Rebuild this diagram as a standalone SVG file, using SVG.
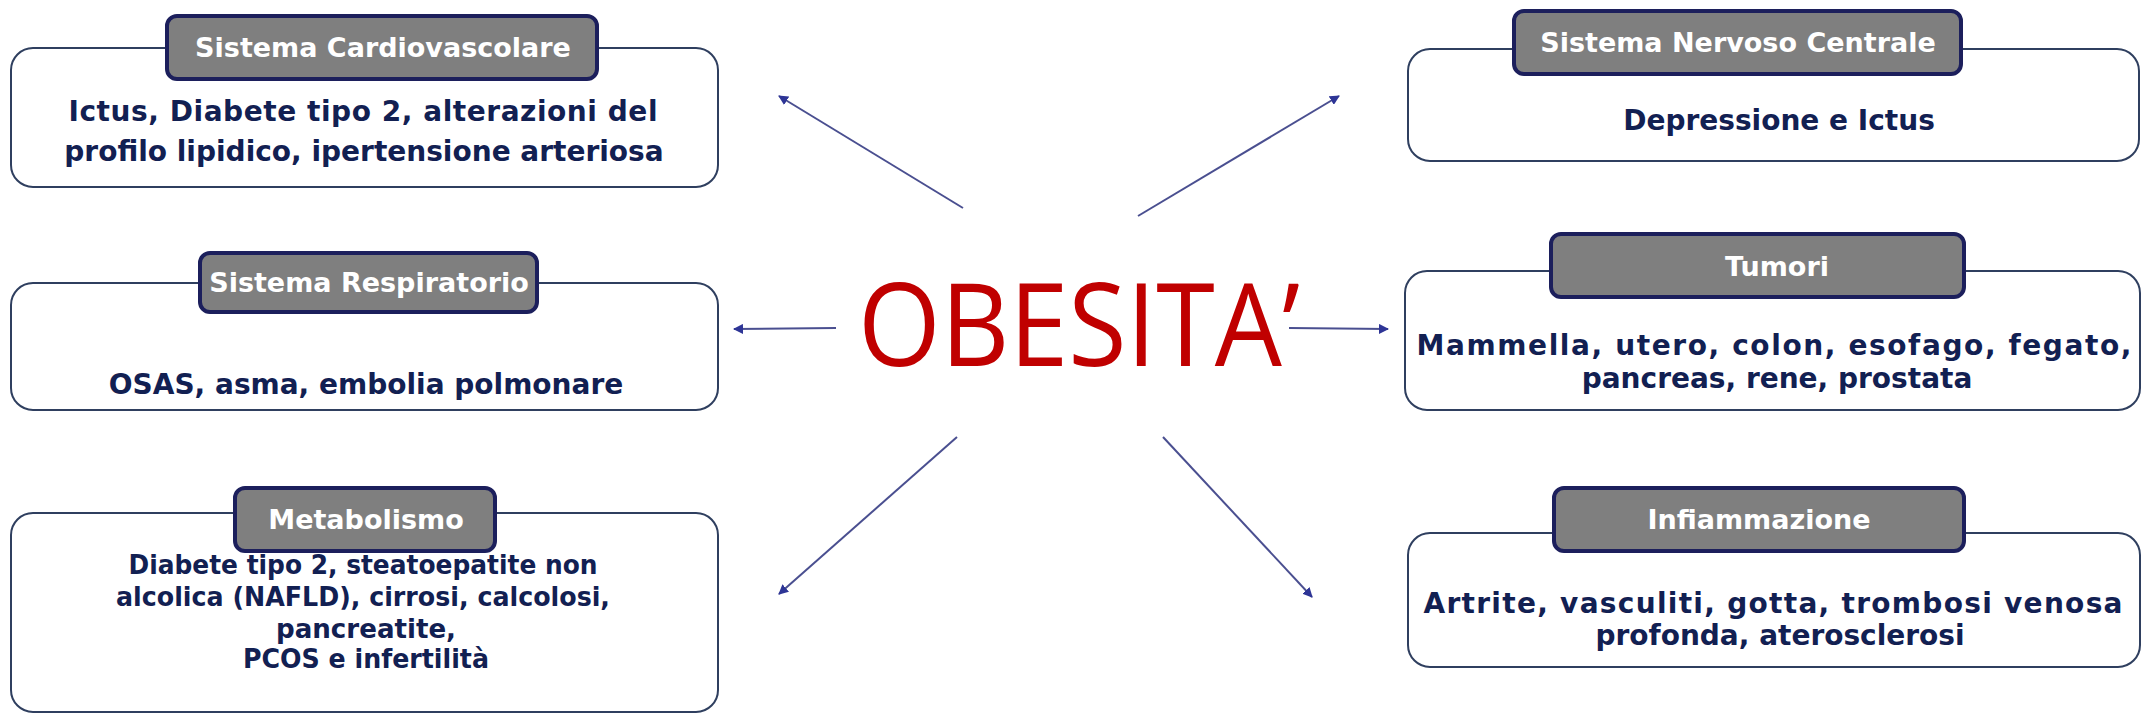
<svg xmlns="http://www.w3.org/2000/svg" width="2143" height="716" viewBox="0 0 2143 716">
<style>
.outer{fill:#ffffff;stroke:#2f3f5f;stroke-width:2}
.head{fill:#7f7f7f;stroke:#1c1f5c;stroke-width:4}
.ht{font-family:"DejaVu Sans",Verdana,sans-serif;font-weight:bold;font-size:27px;fill:#ffffff;text-anchor:middle}
.bt{font-family:"DejaVu Sans",Verdana,sans-serif;font-weight:bold;font-size:28px;fill:#122052;text-anchor:middle}
.sm{font-size:27px}
.conn{stroke:#4a4f90;stroke-width:2;fill:none;marker-end:url(#ah)}
</style>
<defs>
<marker id="ah" viewBox="0 0 10 10" refX="9" refY="5" markerWidth="10" markerHeight="10" markerUnits="userSpaceOnUse" orient="auto">
<path d="M0,0 L10,5 L0,10 z" fill="#2e3596"/>
</marker>
</defs>
<rect width="2143" height="716" fill="#ffffff"/>

<g id="connectors">
<line class="conn" x1="963" y1="208" x2="779" y2="96"/>
<line class="conn" x1="1138" y1="216" x2="1339" y2="96"/>
<line class="conn" x1="836" y1="328" x2="734" y2="329"/>
<line class="conn" x1="1289" y1="328" x2="1388" y2="329"/>
<line class="conn" x1="957" y1="437" x2="779" y2="594"/>
<line class="conn" x1="1163" y1="437" x2="1312" y2="597"/>
</g>

<g id="obesita">
<text x="858" y="366" font-family="'Open Sans',Calibri,sans-serif" font-size="116" fill="#c00000" textLength="442" lengthAdjust="spacingAndGlyphs">OBESITA’</text>
</g>

<g id="cardiovascolare">
<rect class="outer" x="11" y="48" width="707" height="139" rx="22"/>
<rect class="head" x="167" y="16" width="430" height="63" rx="10"/>
<text class="ht" x="383" y="57">Sistema Cardiovascolare</text>
<text class="bt" x="363" y="121" textLength="589" lengthAdjust="spacing">Ictus, Diabete tipo 2, alterazioni del</text>
<text class="bt" x="364" y="161">profilo lipidico, ipertensione arteriosa</text>
</g>

<g id="nervoso">
<rect class="outer" x="1408" y="49" width="731" height="112" rx="22"/>
<rect class="head" x="1514" y="11" width="447" height="63" rx="10"/>
<text class="ht" x="1738" y="52">Sistema Nervoso Centrale</text>
<text class="bt" x="1779" y="130">Depressione e Ictus</text>
</g>

<g id="respiratorio">
<rect class="outer" x="11" y="283" width="707" height="127" rx="22"/>
<rect class="head" x="200" y="253" width="337" height="59" rx="10"/>
<text class="ht" x="369" y="292">Sistema Respiratorio</text>
<text class="bt" x="366" y="394">OSAS, asma, embolia polmonare</text>
</g>

<g id="tumori">
<rect class="outer" x="1405" y="271" width="735" height="139" rx="22"/>
<rect class="head" x="1551" y="234" width="413" height="63" rx="10"/>
<text class="ht" x="1777" y="276">Tumori</text>
<text class="bt" x="1774" y="355" textLength="715" lengthAdjust="spacing">Mammella, utero, colon, esofago, fegato,</text>
<text class="bt" x="1777" y="388">pancreas, rene, prostata</text>
</g>

<g id="metabolismo">
<rect class="outer" x="11" y="513" width="707" height="199" rx="22"/>
<rect class="head" x="235" y="488" width="260" height="63" rx="10"/>
<text class="ht" x="366" y="529">Metabolismo</text>
<text class="bt sm" x="363" y="574" textLength="469" lengthAdjust="spacingAndGlyphs">Diabete tipo 2, steatoepatite non</text>
<text class="bt sm" x="363" y="606" textLength="494" lengthAdjust="spacingAndGlyphs">alcolica (NAFLD), cirrosi, calcolosi,</text>
<text class="bt sm" x="366" y="638" textLength="180" lengthAdjust="spacingAndGlyphs">pancreatite,</text>
<text class="bt sm" x="366" y="668" textLength="246" lengthAdjust="spacingAndGlyphs">PCOS e infertilità</text>
</g>

<g id="infiammazione">
<rect class="outer" x="1408" y="533" width="732" height="134" rx="22"/>
<rect class="head" x="1554" y="488" width="410" height="63" rx="10"/>
<text class="ht" x="1759" y="529">Infiammazione</text>
<text class="bt" x="1773" y="613" textLength="699" lengthAdjust="spacing">Artrite, vasculiti, gotta, trombosi venosa</text>
<text class="bt" x="1780" y="645">profonda, aterosclerosi</text>
</g>
</svg>
